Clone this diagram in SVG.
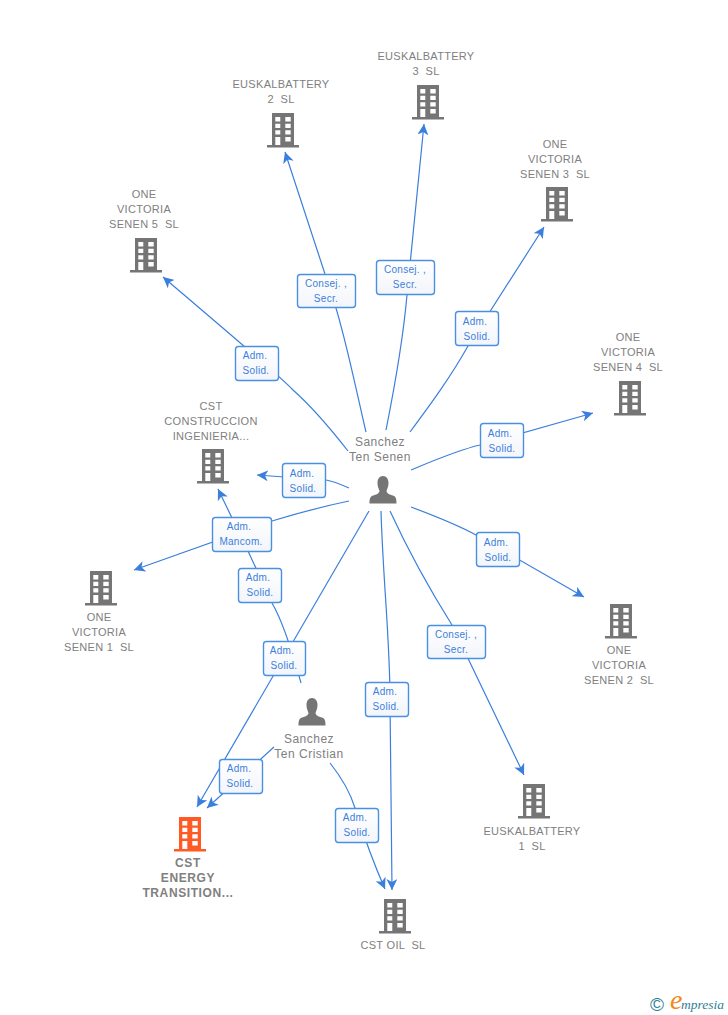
<svg xmlns="http://www.w3.org/2000/svg" width="728" height="1015" viewBox="0 0 728 1015">
<style>
.n{font-family:"Liberation Sans",Arial,sans-serif;font-size:11px;fill:#808080;text-anchor:middle;letter-spacing:.3px;white-space:pre}
.b{font-weight:bold;font-size:12px;letter-spacing:.6px}
.p{font-size:12px;letter-spacing:.5px}
.c{fill:none;stroke:#3b7fdc;stroke-width:1.2}
.a{marker-end:url(#ah)}
.l rect{fill:url(#g);stroke:#4a90e2;stroke-width:1.4}
.l text{font-family:"Liberation Sans",Arial,sans-serif;font-size:10px;fill:#3b7fdc;text-anchor:middle;letter-spacing:.3px}
</style>
<defs>
<linearGradient id="g" x1="0" y1="0" x2="0" y2="1"><stop offset="0" stop-color="#ffffff"/><stop offset="1" stop-color="#f2f5fa"/></linearGradient>
<marker id="ah" markerUnits="userSpaceOnUse" markerWidth="12" markerHeight="11" refX="11" refY="5.5" orient="auto"><path d="M11,5.5 L0,0 L3,5.5 L0,11 Z" fill="#3b7fdc"/></marker>
<symbol id="bld" viewBox="0 0 32 35" width="32" height="35" overflow="visible">
<path fill-rule="evenodd" d="M5,0H27V32H32V34.5H0V32H5Z M8.3,4V8.500H13.300V4Z M18.300,4V8.500H23.700V4Z M8.300,10.800V15H13.300V10.800Z M18.300,10.800V15H23.700V10.800Z M8.300,17.300V21.500H13.300V17.300Z M18.300,17.300V21.500H23.700V17.300Z M8.300,24V32H13.300V24Z M18.300,24V28.500H23.700V24Z"/>
</symbol>
<symbol id="per" viewBox="0 0 28 28" width="28" height="28" overflow="visible">
<path d="M14,0C17.500,0 19.500,3 19.500,7C19.500,11 18,13 17.500,15C18,18 21,18.500 24,19.500C27,20.500 27.500,23 27.500,27.500H0.500C0.500,23 1,20.500 4,19.500C7,18.500 10,18 10.500,15C10,13 8.500,11 8.500,7C8.500,3 10.500,0 14,0Z"/>
</symbol>
</defs>
<g id="connectors">
<path class="c a" d="M348,451C330,428 310,405 293,390C280,376 250,351 163,277"/>
<path class="c a" d="M366,432C355,385 342,320 325,274L285,152"/>
<path class="c a" d="M386,430C395,385 403,340 407,295L424,124"/>
<path class="c a" d="M410,432C430,405 450,378 468,346L544,227"/>
<path class="c a" d="M411,470C435,460 458,450 480,445L593,413"/>
<path class="c a" d="M411,507C435,516 456,524 476,535L584,597"/>
<path class="c a" d="M390,511C408,550 430,590 452,625L524,775"/>
<path class="c a" d="M381,511C383,580 390,640 390,700L392,890"/>
<path class="c a" d="M369,511L197,807"/>
<path class="c a" d="M349,488C340,484 333,481 326,480L257,475"/>
<path class="c a" d="M349,501C320,507 295,514 272,521L134,570"/>
<path class="c a" d="M301,683C296,665 285,625 272,603L248,551L218,489"/>
<path class="c a" d="M274,747L207,808"/>
<path class="c a" d="M330,763C342,778 350,792 355,808C365,840 373,862 385,889"/>
</g>
<g id="labels">
<g class="l"><rect x="235.500" y="346.500" width="43" height="34" rx="3"/><text x="255" y="359">Adm.</text><text x="256" y="374">Solid.</text></g>
<g class="l"><rect x="297.500" y="274.500" width="58" height="33" rx="3"/><text x="326" y="287">Consej. ,</text><text x="326" y="302">Secr.</text></g>
<g class="l"><rect x="376.500" y="260.500" width="58" height="34" rx="3"/><text x="405" y="273">Consej. ,</text><text x="405" y="288">Secr.</text></g>
<g class="l"><rect x="455.500" y="311.500" width="43" height="34" rx="3"/><text x="475" y="325">Adm.</text><text x="477" y="340">Solid.</text></g>
<g class="l"><rect x="480.500" y="423.500" width="43" height="34" rx="3"/><text x="500" y="437">Adm.</text><text x="502" y="452">Solid.</text></g>
<g class="l"><rect x="476.500" y="532.500" width="43" height="34" rx="3"/><text x="496" y="546">Adm.</text><text x="498" y="561">Solid.</text></g>
<g class="l"><rect x="427.500" y="625.500" width="58" height="33" rx="3"/><text x="456" y="638">Consej. ,</text><text x="456" y="653">Secr.</text></g>
<g class="l"><rect x="365.500" y="682.500" width="43" height="34" rx="3"/><text x="385" y="695">Adm.</text><text x="386" y="710">Solid.</text></g>
<g class="l"><rect x="263.500" y="641.500" width="42" height="34" rx="3"/><text x="282" y="654">Adm.</text><text x="284" y="669">Solid.</text></g>
<g class="l"><rect x="282.500" y="463.500" width="43" height="34" rx="3"/><text x="302" y="477">Adm.</text><text x="303" y="492">Solid.</text></g>
<g class="l"><rect x="212.500" y="517.500" width="59" height="34" rx="3"/><text x="239" y="530">Adm.</text><text x="241" y="545">Mancom.</text></g>
<g class="l"><rect x="238.500" y="568.500" width="43" height="34" rx="3"/><text x="258" y="581">Adm.</text><text x="260" y="596">Solid.</text></g>
<g class="l"><rect x="219.500" y="759.500" width="43" height="34" rx="3"/><text x="239" y="772">Adm.</text><text x="240" y="787">Solid.</text></g>
<g class="l"><rect x="335.500" y="808.500" width="43" height="34" rx="3"/><text x="355" y="821">Adm.</text><text x="357" y="836">Solid.</text></g>
</g>
<g id="euskalbattery3" fill="#757575"><text class="n" x="426" y="60">EUSKALBATTERY</text><text class="n" x="426" y="75">3  SL</text><use href="#bld" x="412" y="85"/></g>
<g id="euskalbattery2" fill="#757575"><text class="n" x="281" y="88">EUSKALBATTERY</text><text class="n" x="281" y="103">2  SL</text><use href="#bld" x="267" y="113"/></g>
<g id="onevictoria3" fill="#757575"><text class="n" x="555" y="148">ONE</text><text class="n" x="555" y="163">VICTORIA</text><text class="n" x="555" y="178">SENEN 3  SL</text><use href="#bld" x="541" y="187"/></g>
<g id="onevictoria5" fill="#757575"><text class="n" x="144" y="198">ONE</text><text class="n" x="144" y="213">VICTORIA</text><text class="n" x="144" y="228">SENEN 5  SL</text><use href="#bld" x="130" y="238"/></g>
<g id="onevictoria4" fill="#757575"><text class="n" x="628" y="341">ONE</text><text class="n" x="628" y="356">VICTORIA</text><text class="n" x="628" y="371">SENEN 4  SL</text><use href="#bld" x="614" y="381"/></g>
<g id="cstconstruccion" fill="#757575"><text class="n" x="211" y="410">CST</text><text class="n" x="211" y="425">CONSTRUCCION</text><text class="n" x="211" y="440">INGENIERIA...</text><use href="#bld" x="197" y="449"/></g>
<g id="onevictoria1" fill="#757575"><use href="#bld" x="85" y="571"/><text class="n" x="99" y="621">ONE</text><text class="n" x="99" y="636">VICTORIA</text><text class="n" x="99" y="651">SENEN 1  SL</text></g>
<g id="onevictoria2" fill="#757575"><use href="#bld" x="605" y="604"/><text class="n" x="619" y="654">ONE</text><text class="n" x="619" y="669">VICTORIA</text><text class="n" x="619" y="684">SENEN 2  SL</text></g>
<g id="euskalbattery1" fill="#757575"><use href="#bld" x="518" y="784"/><text class="n" x="532" y="835">EUSKALBATTERY</text><text class="n" x="532" y="850">1  SL</text></g>
<g id="cstoil" fill="#757575"><use href="#bld" x="379" y="899"/><text class="n" x="393" y="949">CST OIL  SL</text></g>
<g id="cstenergy" fill="#ff5a26"><use href="#bld" x="174" y="817"/><text class="n b" x="188" y="867">CST</text><text class="n b" x="188" y="882">ENERGY</text><text class="n b" x="188" y="897">TRANSITION...</text></g>
<g id="senen" fill="#757575"><text class="n p" x="380" y="446">Sanchez</text><text class="n p" x="380" y="461">Ten Senen</text><use href="#per" x="369" y="476"/></g>
<g id="cristian" fill="#757575"><use href="#per" x="298" y="698"/><text class="n p" x="309" y="743">Sanchez</text><text class="n p" x="309" y="758">Ten Cristian</text></g>
<g id="logo">
<text x="650" y="1011" font-family="'Liberation Sans',Arial,sans-serif" font-size="19" fill="#2f7f95">©</text>
<text x="670" y="1009" font-family="'Liberation Serif',serif" font-style="italic" font-size="28" fill="#f08a1d">e</text>
<text x="681" y="1009" font-family="'Liberation Serif',serif" font-style="italic" font-size="13.500" fill="#2f7f95">mpresia</text>
</g>
</svg>
